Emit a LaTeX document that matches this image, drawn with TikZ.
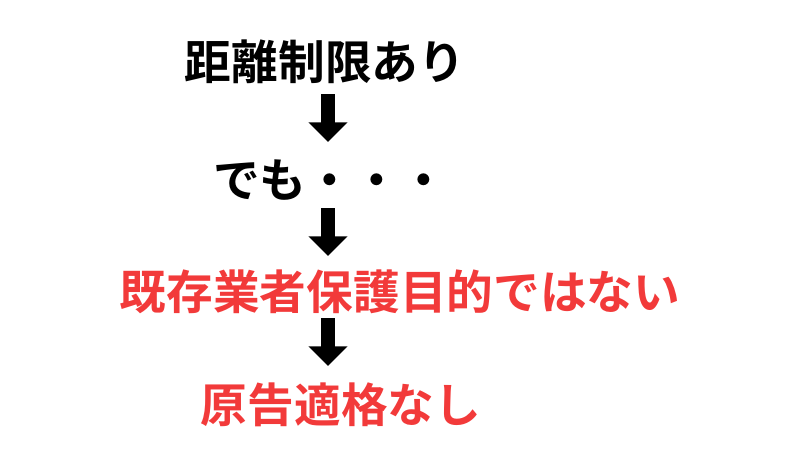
\documentclass[tikz,border=0pt]{standalone}
\usepackage{fontspec}
\newfontfamily\jp{Noto Sans CJK JP Bold}
\usetikzlibrary{arrows.meta}
\definecolor{myred}{HTML}{F23A3A}
\begin{document}
\begin{tikzpicture}[x=0.025cm,y=-0.025cm,
  txt/.style={font=\jp\fontsize{33.2pt}{36pt}\selectfont, inner sep=0pt, anchor=center},
  blk/.style={line width=10pt, -{Triangle[width=27pt,length=14pt]}}]
\useasboundingbox (0,0) rectangle (800,450);
\node[txt] (a) at (325,62) {距離制限あり};
\node[txt] (b) at (330,180) {でも・・・};
\node[txt, text=myred] (c) at (400,292) {既存業者保護目的ではない};
\node[txt, text=myred] (d) at (341,405) {原告適格なし};
\coordinate (a1) at (328,94); \coordinate (a2) at (328,142);
\coordinate (b1) at (328,208); \coordinate (b2) at (328,256);
\coordinate (c1) at (328,318); \coordinate (c2) at (328,366);
\draw[blk] (a1) -- (a2);
\draw[blk] (b1) -- (b2);
\draw[blk] (c1) -- (c2);
\end{tikzpicture}
\end{document}
